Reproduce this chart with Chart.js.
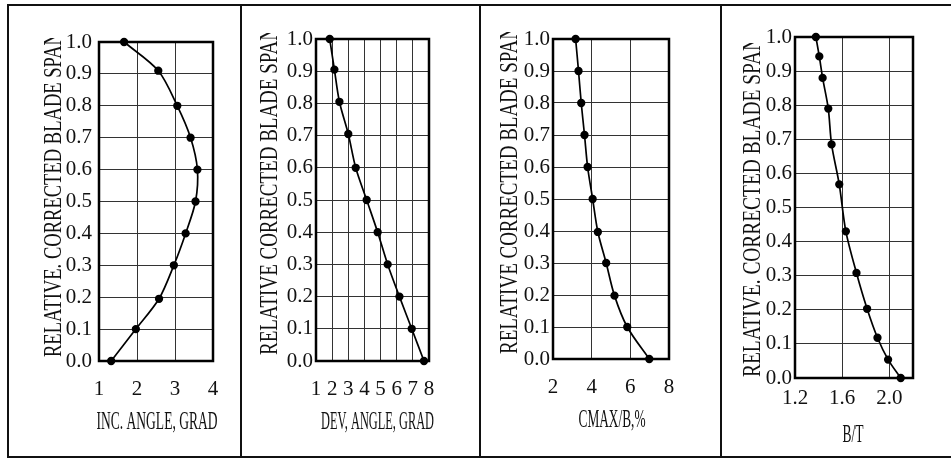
<!DOCTYPE html>
<html>
<head>
<meta charset="utf-8">
<script src="https://cdn.jsdelivr.net/npm/chart.js@4/dist/chart.umd.min.js"></script>
<style>
  body { margin: 0; background: #fff; width: 951px; height: 459px; position: relative; overflow: hidden; }
  .line { position: absolute; background: #111; }
  canvas { position: absolute; }
</style>
</head>
<body>
<div class="line" style="left:7px; top:4px; width:944px; height:2px;"></div>
<div class="line" style="left:7px; top:456px; width:944px; height:2px;"></div>
<div class="line" style="left:7px; top:4px; width:2px; height:454px;"></div>
<div class="line" style="left:240px; top:4px; width:2px; height:454px;"></div>
<div class="line" style="left:479px; top:4px; width:2px; height:454px;"></div>
<div class="line" style="left:720px; top:4px; width:2px; height:454px;"></div>

<canvas id="incChart" width="232" height="450" style="left:8px; top:6px;"></canvas>
<canvas id="devChart" width="237" height="450" style="left:242px; top:6px;"></canvas>
<canvas id="cmaxChart" width="239" height="450" style="left:481px; top:6px;"></canvas>
<canvas id="btChart" width="229" height="450" style="left:722px; top:6px;"></canvas>

<script>
// relative corrected blade span ticks
const spanTicks = [0, 0.1, 0.2, 0.3, 0.4, 0.5, 0.6, 0.7, 0.8, 0.9, 1.0];

// incidence angle
const spanInc = [1.0, 0.91, 0.8, 0.7, 0.6, 0.5, 0.4, 0.3, 0.195, 0.1, 0.0];
const incAngle = [1.66, 2.56, 3.06, 3.41, 3.59, 3.54, 3.28, 2.97, 2.58, 1.97, 1.32];
const incTicks = [1, 2, 3, 4];

// deviation angle
const spanDev = [1.0, 0.905, 0.805, 0.705, 0.6, 0.5, 0.4, 0.3, 0.2, 0.1, 0.0];
const devAngle = [1.85, 2.14, 2.45, 3.0, 3.46, 4.14, 4.82, 5.44, 6.17, 6.93, 7.69];
const devTicks = [1, 2, 3, 4, 5, 6, 7, 8];

// max thickness / chord
const spanCmax = [1.0, 0.9, 0.8, 0.7, 0.6, 0.5, 0.397, 0.3, 0.198, 0.1, 0.0];
const cmaxB = [3.17, 3.32, 3.46, 3.63, 3.79, 4.05, 4.32, 4.75, 5.18, 5.84, 6.98];
const cmaxTicks = [2, 4, 6, 8];

// solidity
const spanBT = [1.0, 0.943, 0.88, 0.79, 0.685, 0.568, 0.43, 0.308, 0.203, 0.118, 0.054, 0.0];
const bt = [1.377, 1.406, 1.434, 1.482, 1.51, 1.575, 1.631, 1.721, 1.811, 1.899, 1.989, 2.096];
const btTicks = [1.2, 1.6, 2.0];

const SERIF = "'Liberation Serif', 'Times New Roman', serif";

// plot frame + squeezed axis titles like the scanned figure
const condensedTitles = {
  id: 'condensedTitles',
  beforeDatasetsDraw(chart) {
    const a = chart.chartArea;
    const ctx = chart.ctx;
    ctx.save();
    ctx.strokeStyle = '#000';
    ctx.lineWidth = 2.5;
    ctx.strokeRect(a.left, a.top, a.right - a.left, a.bottom - a.top);
    ctx.restore();
  },
  afterDraw(chart, args, o) {
    const a = chart.chartArea;
    const ctx = chart.ctx;
    ctx.font = o.size + 'px ' + SERIF;
    ctx.fillStyle = '#111';
    ctx.textBaseline = 'middle';

    // y title, running upwards, cut at the top
    ctx.save();
    ctx.beginPath();
    ctx.rect(0, o.yClip, chart.width, chart.height);
    ctx.clip();
    ctx.textAlign = 'left';
    ctx.translate(a.left + o.yDx, a.bottom + o.yDy);
    ctx.rotate(-Math.PI / 2);
    let w = ctx.measureText(o.yText).width;
    ctx.scale(o.yLen / w, 1);
    ctx.fillText(o.yText, 0, 0);
    ctx.restore();

    // x title
    ctx.save();
    ctx.textAlign = 'center';
    ctx.translate((a.left + a.right) / 2 + o.xDx, a.bottom + o.xDy);
    w = ctx.measureText(o.xText).width;
    ctx.scale(o.xLen / w, 1);
    ctx.fillText(o.xText, 0, 0);
    ctx.restore();
  }
};

function makePanel(id, xs, ys, xTicks, xMin, xMax, xDigits, lay) {
  const canvas = document.getElementById(id);
  return new Chart(canvas, {
    type: 'scatter',
    data: {
      datasets: [{
        data: xs.map((x, i) => ({ x: x, y: ys[i] })),
        showLine: true,
        borderColor: '#000',
        borderWidth: 1.7,
        backgroundColor: '#000',
        pointRadius: 3.3,
        pointHoverRadius: 3.3,
        tension: 0.3,
        clip: false
      }]
    },
    options: {
      responsive: false,
      animation: false,
      events: [],
      layout: { padding: { left: 0, top: lay.top, right: lay.right, bottom: 0 } },
      plugins: {
        legend: { display: false },
        tooltip: { enabled: false },
        condensedTitles: lay.titles
      },
      scales: {
        x: {
          type: 'linear',
          min: xMin,
          max: xMax,
          afterBuildTicks: s => { s.ticks = xTicks.map(v => ({ value: v })); },
          afterFit: s => { s.height = lay.xH; },
          grid: { color: '#333', lineWidth: 1, drawTicks: false },
          border: { display: false },
          ticks: {
            padding: lay.xPad,
            maxRotation: 0,
            autoSkip: false,
            color: '#111',
            font: { family: SERIF, size: 21 },
            callback: v => Number(v).toFixed(xDigits)
          }
        },
        y: {
          type: 'linear',
          min: 0,
          max: 1,
          afterBuildTicks: s => { s.ticks = spanTicks.map(v => ({ value: v })); },
          afterFit: s => { s.width = lay.yW; },
          grid: { color: '#333', lineWidth: 1, drawTicks: false },
          border: { display: false },
          ticks: {
            padding: lay.yPad,
            color: '#111',
            font: { family: SERIF, size: 21 },
            callback: v => Number(v).toFixed(1)
          }
        }
      }
    },
    plugins: [condensedTitles]
  });
}

makePanel('incChart', incAngle, spanInc, incTicks, 1, 4, 0, {
  top: 36, right: 27, yW: 91, xH: 95, xPad: 16, yPad: 7,
  titles: { size: 25, yText: 'RELATIVE. CORRECTED BLADE SPAN', yDx: -45, yDy: -4, yLen: 325, yClip: 32,
            xText: 'INC. ANGLE, GRAD', xDx: 1, xDy: 61, xLen: 121 }
});

makePanel('devChart', devAngle, spanDev, devTicks, 1, 8, 0, {
  top: 33, right: 50, yW: 74, xH: 95, xPad: 16, yPad: 3,
  titles: { size: 25, yText: 'RELATIVE CORRECTED BLADE SPAN', yDx: -46, yDy: -6, yLen: 328, yClip: 27,
            xText: 'DEV, ANGLE, GRAD', xDx: 5, xDy: 61, xLen: 113 }
});

makePanel('cmaxChart', cmaxB, spanCmax, cmaxTicks, 2, 8, 0, {
  top: 33, right: 51, yW: 72, xH: 97, xPad: 16, yPad: 3,
  titles: { size: 25, yText: 'RELATIVE CORRECTED BLADE SPAN', yDx: -43, yDy: -5, yLen: 328, yClip: 26,
            xText: 'CMAX/B,%', xDx: 1, xDy: 61, xLen: 67 }
});

makePanel('btChart', bt, spanBT, btTicks, 1.2, 2.2, 1, {
  top: 31, right: 38, yW: 73, xH: 78, xPad: 8, yPad: 3,
  titles: { size: 25, yText: 'RELATIVE. CORRECTED BLADE SPAN', yDx: -42, yDy: -1, yLen: 340, yClip: 37,
            xText: 'B/T', xDx: -1, xDy: 57, xLen: 21 }
});
</script>
</body>
</html>
